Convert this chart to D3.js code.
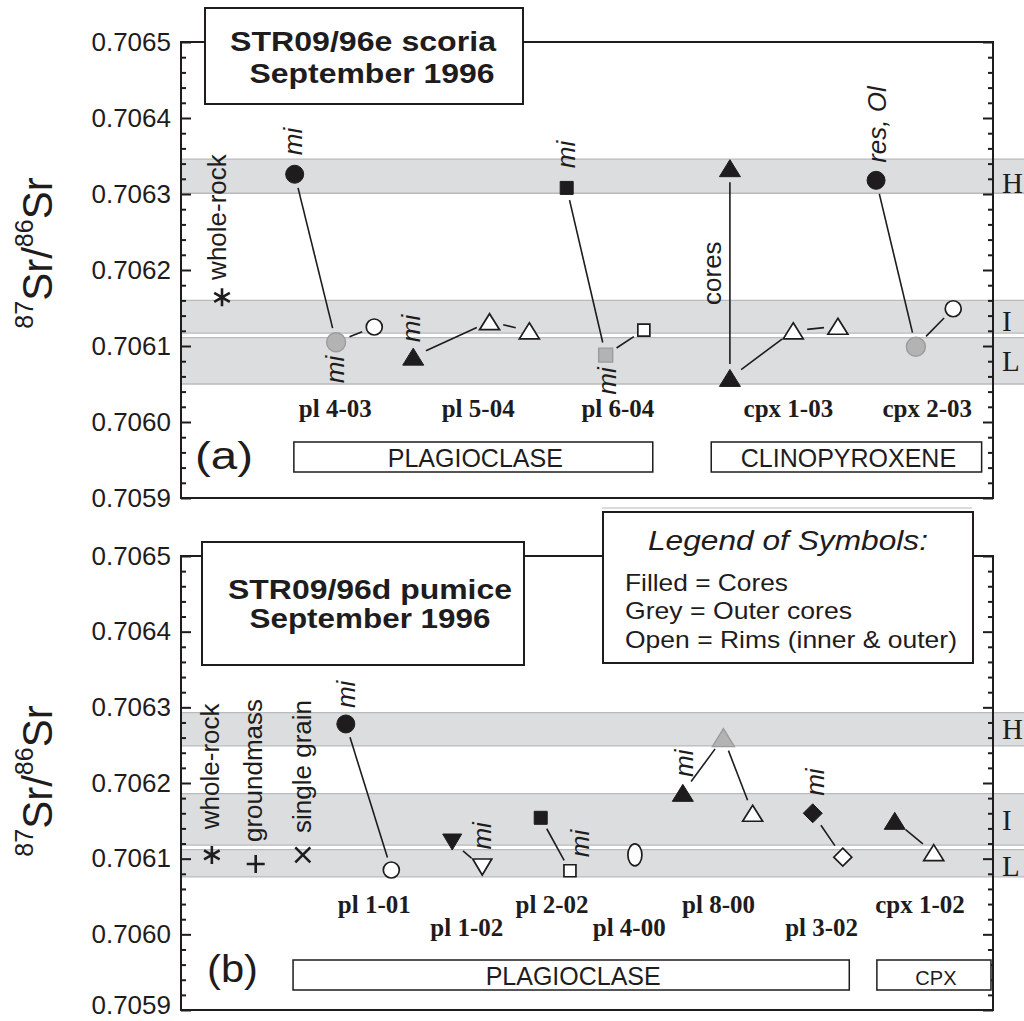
<!DOCTYPE html>
<html><head><meta charset="utf-8">
<script src="https://cdn.jsdelivr.net/npm/d3@7"></script>
<style>body{margin:0;background:#fff} svg{display:block}</style>
</head><body>
<svg id="c" width="1024" height="1021"></svg>
<script>
// ---------- DATA ----------
const yMajorTicks = [0.7059,0.7060,0.7061,0.7062,0.7063,0.7064,0.7065];
const yTickLabels = ["0.7059","0.7060","0.7061","0.7062","0.7063","0.7064","0.7065"];

// Isotopic groups (H, I, L) — [lower, upper] 87Sr/86Sr; label centre value
const bandsA = [
  {name:"H", lo:0.706301, hi:0.706346, lab:0.706314},
  {name:"I", lo:0.706117, hi:0.706160, lab:0.706133},
  {name:"L", lo:0.706050, hi:0.706111, lab:0.706080}
];
const bandsB = [
  {name:"H", lo:0.706249, hi:0.706293, lab:0.706271},
  {name:"I", lo:0.706118, hi:0.706186, lab:0.706151},
  {name:"L", lo:0.706076, hi:0.706112, lab:0.706090}
];

// (a) STR09/96e scoria: grain, slot position (0-100), 87Sr/86Sr, symbol, zone
const pointsA = [
  {grain:"WR",       x:5.05, v:0.706164, sym:"asterisk", kind:"other"},
  {grain:"pl 4-03",  x:14.0, v:0.706326, sym:"circle",   kind:"core"},
  {grain:"pl 4-03",  x:19.1, v:0.706105, sym:"circle",   kind:"outer"},
  {grain:"pl 4-03",  x:23.8, v:0.706125, sym:"circle",   kind:"rim"},
  {grain:"pl 5-04",  x:28.6, v:0.706086, sym:"triangle", kind:"core"},
  {grain:"pl 5-04",  x:38.0, v:0.706132, sym:"triangle", kind:"rim"},
  {grain:"pl 5-04",  x:42.9, v:0.706120, sym:"triangle", kind:"rim"},
  {grain:"pl 6-04",  x:47.5, v:0.706308, sym:"square",   kind:"core"},
  {grain:"pl 6-04",  x:52.3, v:0.706088, sym:"square",   kind:"outer"},
  {grain:"pl 6-04",  x:57.0, v:0.706121, sym:"square",   kind:"rim"},
  {grain:"cpx 1-03", x:67.6, v:0.706334, sym:"triangle", kind:"core"},
  {grain:"cpx 1-03", x:67.6, v:0.706058, sym:"triangle", kind:"core"},
  {grain:"cpx 1-03", x:75.4, v:0.706120, sym:"triangle", kind:"rim"},
  {grain:"cpx 1-03", x:80.9, v:0.706126, sym:"triangle", kind:"rim"},
  {grain:"cpx 2-03", x:85.6, v:0.706318, sym:"circle",   kind:"core"},
  {grain:"cpx 2-03", x:90.5, v:0.706099, sym:"circle",   kind:"outer"},
  {grain:"cpx 2-03", x:95.1, v:0.706149, sym:"circle",   kind:"rim"}
];
// (b) STR09/96d pumice
const pointsB = [
  {grain:"WR",       x:3.8,  v:0.706105, sym:"asterisk", kind:"other"},
  {grain:"GM",       x:9.2,  v:0.706093, sym:"plus",     kind:"other"},
  {grain:"SG",       x:15.0, v:0.706105, sym:"times",    kind:"other"},
  {grain:"pl 1-01",  x:20.3, v:0.706278, sym:"circle",   kind:"core"},
  {grain:"pl 1-01",  x:25.9, v:0.706085, sym:"circle",   kind:"rim"},
  {grain:"pl 1-02",  x:33.4, v:0.706122, sym:"triDown",  kind:"core"},
  {grain:"pl 1-02",  x:37.1, v:0.706089, sym:"triDown",  kind:"rim"},
  {grain:"pl 2-02",  x:44.3, v:0.706154, sym:"square",   kind:"core"},
  {grain:"pl 2-02",  x:47.9, v:0.706084, sym:"square",   kind:"rim"},
  {grain:"pl 4-00",  x:55.9, v:0.706105, sym:"ellipse",  kind:"rim"},
  {grain:"pl 8-00",  x:61.8, v:0.706187, sym:"triangle", kind:"core"},
  {grain:"pl 8-00",  x:66.8, v:0.706260, sym:"triangle", kind:"outer"},
  {grain:"pl 8-00",  x:70.4, v:0.706160, sym:"triangle", kind:"rim"},
  {grain:"pl 3-02",  x:77.8, v:0.706160, sym:"diamond",  kind:"core"},
  {grain:"pl 3-02",  x:81.5, v:0.706102, sym:"diamond",  kind:"rim"},
  {grain:"cpx 1-02", x:87.9, v:0.706150, sym:"triangle", kind:"core"},
  {grain:"cpx 1-02", x:92.7, v:0.706108, sym:"triangle", kind:"rim"}
];

// Rotated annotations: text, slot position, start value, italic
const notesA = [
  {t:"whole-rock", x:4.4,  v:0.706187, it:false},
  {t:"mi",         x:13.8, v:0.706351, it:true},
  {t:"mi",         x:19.0, v:0.706051, it:true},
  {t:"mi",         x:28.3, v:0.706105, it:true},
  {t:"mi",         x:47.4, v:0.706334, it:true},
  {t:"mi",         x:52.5, v:0.706036, it:true},
  {t:"cores",      x:65.4, v:0.706154, it:false},
  {t:"res, Ol",    x:85.7, v:0.706341, it:true}
];
const notesB = [
  {t:"whole-rock",   x:3.6,  v:0.706139, it:false},
  {t:"groundmass",   x:8.9,  v:0.706122, it:false},
  {t:"single grain", x:14.9, v:0.706134, it:false},
  {t:"mi",           x:20.3, v:0.706299, it:true},
  {t:"mi",           x:37.1, v:0.706112, it:true},
  {t:"mi",           x:49.1, v:0.706102, it:true},
  {t:"mi",           x:61.9, v:0.706208, it:true},
  {t:"mi",           x:78.1, v:0.706183, it:true}
];

// Grain labels: text, slot position of centre, row (0 upper, 1 lower)
const grainsA = [
  {t:"pl 4-03", x:19.0, row:0}, {t:"pl 5-04", x:36.6, row:0}, {t:"pl 6-04", x:53.8, row:0},
  {t:"cpx 1-03", x:74.8, row:0}, {t:"cpx 2-03", x:91.9, row:0}
];
const grainsB = [
  {t:"pl 1-01", x:23.8, row:0}, {t:"pl 1-02", x:35.2, row:1}, {t:"pl 2-02", x:45.7, row:0},
  {t:"pl 4-00", x:55.2, row:1}, {t:"pl 8-00", x:66.2, row:0}, {t:"pl 3-02", x:78.9, row:1},
  {t:"cpx 1-02", x:91.0, row:0}
];
// Mineral boxes: text, from, to (slot units)
const mineralsA = [{t:"PLAGIOCLASE", a:13.9, b:58.1, fs:25}, {t:"CLINOPYROXENE", a:65.3, b:98.6, fs:25}];
const mineralsB = [{t:"PLAGIOCLASE", a:13.8, b:82.3, fs:25}, {t:"CPX", a:85.7, b:99.75, fs:20}];

// ---------- DRAWING ----------
const W = 1024;
const svg = d3.select("#c");
const X0 = 181, X1 = 993;
const x = d3.scaleLinear().domain([0,100]).range([X0, X1]);
const INK = "#1e1c1d";
const SANS = "'Liberation Sans', Arial, Helvetica, sans-serif";
const SERIF = "'Liberation Serif', 'Times New Roman', serif";

const minorTicks = d3.range(0, 31).map(i => +(0.7059 + i*0.00002).toFixed(6)).filter(v => !yMajorTicks.some(m => Math.abs(m-v) < 1e-9));

function markerSpec(sym, kind){
  let d, r;
  if (sym === "circle"){
    r = kind === "core" ? 9 : kind === "outer" ? 9.5 : 8;
    d = `M${r},0A${r},${r} 0 1,1 ${-r},0A${r},${r} 0 1,1 ${r},0Z`;
  } else if (sym === "ellipse"){
    const rx = 7, ry = 11; r = 11;
    d = `M${rx},0A${rx},${ry} 0 1,1 ${-rx},0A${rx},${ry} 0 1,1 ${rx},0Z`;
  } else if (sym === "triangle"){
    const w = kind === "core" ? 21 : kind === "outer" ? 22 : 20;
    const h = kind === "core" ? 17 : kind === "outer" ? 18 : 16;
    r = 9;
    d = `M0,${-h/2}L${w/2},${h/2}L${-w/2},${h/2}Z`;
  } else if (sym === "triDown"){
    const w = 19, h = 16; r = 9;
    d = `M0,${h/2}L${w/2},${-h/2}L${-w/2},${-h/2}Z`;
  } else if (sym === "square"){
    const s = kind === "core" ? 13 : kind === "outer" ? 14 : 12;
    r = s/2 + 1;
    d = `M${-s/2},${-s/2}H${s/2}V${s/2}H${-s/2}Z`;
  } else if (sym === "diamond"){
    const s = kind === "core" ? 9.5 : 9; r = s;
    d = `M0,${-s}L${s},0L0,${s}L${-s},0Z`;
  } else if (sym === "asterisk"){
    const a = 9, c = a*Math.cos(Math.PI/6), s = a*Math.sin(Math.PI/6); r = a;
    d = `M0,${-a}V${a}M${-c},${-s}L${c},${s}M${-c},${s}L${c},${-s}`;
  } else if (sym === "plus"){
    const a = 9; r = a;
    d = `M0,${-a}V${a}M${-a},0H${a}`;
  } else if (sym === "times"){
    const a = 7.5; r = a;
    d = `M${-a},${-a}L${a},${a}M${-a},${a}L${a},${-a}`;
  }
  return {d, r};
}

function styleFor(kind){
  if (kind === "core")  return {fill: INK, stroke: INK, sw: 1};
  if (kind === "outer") return {fill: "#b3b3b3", stroke: "#9c9c9c", sw: 1.4};
  if (kind === "rim")   return {fill: "#fff", stroke: INK, sw: 1.7};
  return {fill: "none", stroke: INK, sw: 2.6};
}

function panel(cfg){
  const y = d3.scaleLinear().domain([0.7059, 0.7065]).range([cfg.bottom, cfg.top]);
  const g = svg.append("g");

  // bands
  cfg.bands.forEach(b => {
    g.append("rect").attr("x", X0).attr("width", W - X0)
      .attr("y", y(b.hi)).attr("height", y(b.lo) - y(b.hi)).attr("fill", "#dcdddf");
    [b.hi, b.lo].forEach(v => g.append("line")
      .attr("x1", X0).attr("x2", W).attr("y1", y(v)).attr("y2", y(v))
      .attr("stroke", "#b9babc").attr("stroke-width", 1.3));
    g.append("text").attr("x", 1002).attr("y", y(b.lab)).attr("dy", "0.34em")
      .attr("font-family", SERIF).attr("font-size", 29).attr("fill", INK).text(b.name);
  });

  // frame
  g.append("rect").attr("x", X0).attr("y", cfg.top).attr("width", X1 - X0).attr("height", cfg.bottom - cfg.top)
    .attr("fill", "none").attr("stroke", INK).attr("stroke-width", 2);

  const styleAxis = sel => {
    sel.selectAll("path").remove();
    sel.selectAll("line").attr("stroke", INK).attr("stroke-width", 2);
    sel.attr("font-family", SANS).attr("font-size", 26);
    sel.selectAll("text").attr("fill", INK);
  };
  const leftMajor = g.append("g").attr("transform", `translate(${X0},0)`)
    .call(d3.axisLeft(y).tickValues(yMajorTicks).tickFormat((d,i) => yTickLabels[i])
      .tickSizeInner(-10).tickSizeOuter(0).tickPadding(10)).call(styleAxis);
  if (cfg.lowLabelDy) leftMajor.selectAll("text").filter(d => d === 0.7059).attr("dy", cfg.lowLabelDy);
  g.append("g").attr("transform", `translate(${X0},0)`)
    .call(d3.axisLeft(y).tickValues(minorTicks).tickFormat("").tickSizeInner(-5).tickSizeOuter(0)).call(styleAxis);
  g.append("g").attr("transform", `translate(${X1},0)`)
    .call(d3.axisRight(y).tickValues(yMajorTicks).tickFormat("").tickSizeInner(-10).tickSizeOuter(0)).call(styleAxis);
  g.append("g").attr("transform", `translate(${X1},0)`)
    .call(d3.axisRight(y).tickValues(minorTicks).tickFormat("").tickSizeInner(-5).tickSizeOuter(0)).call(styleAxis);

  // connecting lines (consecutive analyses of the same grain)
  const groups = d3.groups(cfg.points, d => d.grain);
  groups.forEach(([k, arr]) => {
    for (let i = 0; i < arr.length - 1; i++){
      const p = arr[i], q = arr[i+1];
      const x1 = x(p.x), y1 = y(p.v), x2 = x(q.x), y2 = y(q.v);
      const dx = x2 - x1, dy = y2 - y1, L = Math.hypot(dx, dy);
      const ux = dx / L, uy = dy / L;
      const g1 = markerSpec(p.sym, p.kind).r + 5, g2 = markerSpec(q.sym, q.kind).r + 5;
      g.append("line")
        .attr("x1", x1 + ux*g1).attr("y1", y1 + uy*g1)
        .attr("x2", x2 - ux*g2).attr("y2", y2 - uy*g2)
        .attr("stroke", INK).attr("stroke-width", 1.6);
    }
  });

  // markers
  g.selectAll("path.mk").data(cfg.points).join("path").attr("class", "mk")
    .attr("transform", d => `translate(${x(d.x)},${y(d.v)})`)
    .attr("d", d => markerSpec(d.sym, d.kind).d)
    .each(function(d){
      const s = styleFor(d.kind);
      d3.select(this).attr("fill", s.fill).attr("stroke", s.stroke).attr("stroke-width", s.sw)
        .attr("stroke-linejoin", "miter");
    });

  // rotated notes
  cfg.notes.forEach(n => {
    g.append("text").attr("transform", `translate(${x(n.x)},${y(n.v)}) rotate(-90)`)
      .attr("dy", "0.35em").attr("font-family", SANS).attr("font-size", 26)
      .attr("font-style", n.it ? "italic" : "normal").attr("fill", INK).text(n.t);
  });

  // grain labels
  cfg.grains.forEach(l => {
    g.append("text").attr("x", x(l.x)).attr("y", cfg.grainY[l.row]).attr("text-anchor", "middle")
      .attr("font-family", SERIF).attr("font-weight", "bold").attr("font-size", 25).attr("fill", INK).text(l.t);
  });

  // mineral boxes
  cfg.minerals.forEach(m => {
    g.append("rect").attr("x", x(m.a)).attr("y", cfg.boxY).attr("width", x(m.b) - x(m.a)).attr("height", 30)
      .attr("fill", "#fff").attr("stroke", INK).attr("stroke-width", 1.5);
    g.append("text").attr("x", (x(m.a) + x(m.b))/2 + 2).attr("y", cfg.boxY + 25).attr("text-anchor", "middle")
      .attr("font-family", SANS).attr("font-size", m.fs).attr("fill", INK).text(m.t);
  });

  // panel letter
  g.append("text").attr("x", cfg.letterX).attr("y", cfg.letterY).attr("font-family", SANS)
    .attr("font-size", 38).attr("textLength", cfg.letterW).attr("lengthAdjust", "spacingAndGlyphs")
    .attr("fill", INK).text(cfg.letter);

  // y-axis title
  const t = svg.append("text").attr("transform", `translate(52,${cfg.labelY}) rotate(-90)`)
    .attr("text-anchor", "middle").attr("font-family", SANS).attr("fill", INK);
  t.append("tspan").attr("font-size", 25).attr("dy", -19).text("87");
  t.append("tspan").attr("font-size", 42).attr("dy", 19).text("Sr/");
  t.append("tspan").attr("font-size", 25).attr("dy", -19).text("86");
  t.append("tspan").attr("font-size", 42).attr("dy", 19).text("Sr");
  return y;
}

panel({top: 42, bottom: 498, bands: bandsA, points: pointsA, notes: notesA, grains: grainsA,
  grainY: [417, 417], minerals: mineralsA, boxY: 442, letter: "(a)", letterX: 195, letterY: 469, letterW: 58, labelY: 253});
panel({top: 556, bottom: 1010, bands: bandsB, points: pointsB, notes: notesB, grains: grainsB,
  grainY: [913, 936], minerals: mineralsB, boxY: 960, letter: "(b)", letterX: 207, letterY: 982, letterW: 51, labelY: 781,
  lowLabelDy: "0.12em"});

// title boxes
function titleBox(bx, by, bw, bh, lines){
  svg.append("rect").attr("x", bx).attr("y", by).attr("width", bw).attr("height", bh)
    .attr("fill", "#fff").attr("stroke", INK).attr("stroke-width", 2);
  lines.forEach(l => svg.append("text").attr("x", l.x).attr("y", l.y).attr("text-anchor", "middle")
    .attr("font-family", SANS).attr("font-weight", "bold").attr("font-size", 28)
    .attr("textLength", l.w).attr("lengthAdjust", "spacingAndGlyphs").attr("fill", INK).text(l.t));
}
titleBox(205, 8, 318, 96, [
  {t:"STR09/96e scoria", x:363, y:51, w:266},
  {t:"September 1996", x:372, y:83, w:245}
]);
titleBox(202, 542, 322, 123, [
  {t:"STR09/96d pumice", x:370, y:599, w:284},
  {t:"September 1996", x:370, y:628, w:241}
]);

// faint rule under panel (a)
svg.append("line").attr("x1", 602).attr("x2", 972).attr("y1", 508).attr("y2", 508)
  .attr("stroke", "#cfcfcf").attr("stroke-width", 1.5);

// legend box
svg.append("rect").attr("x", 603).attr("y", 512).attr("width", 370).attr("height", 151)
  .attr("fill", "#fff").attr("stroke", INK).attr("stroke-width", 2);
svg.append("text").attr("x", 648).attr("y", 550).attr("font-family", SANS).attr("font-style", "italic")
  .attr("font-size", 28).attr("textLength", 280).attr("lengthAdjust", "spacingAndGlyphs").attr("fill", INK)
  .text("Legend of Symbols:");
const legendLines = [
  {t:"Filled = Cores", y:591, w:163},
  {t:"Grey = Outer cores", y:619, w:227},
  {t:"Open = Rims (inner & outer)", y:648, w:332}
];
legendLines.forEach(l => svg.append("text").attr("x", 625).attr("y", l.y).attr("font-family", SANS)
  .attr("font-size", 24).attr("textLength", l.w).attr("lengthAdjust", "spacingAndGlyphs").attr("fill", INK).text(l.t));
</script>
</body></html>
